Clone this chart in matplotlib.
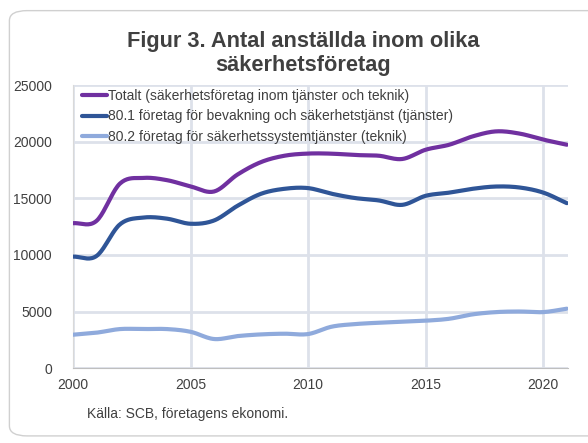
import numpy as np
import matplotlib.pyplot as plt
from matplotlib.patches import FancyBboxPatch

plt.rcParams['font.family'] = ['Liberation Sans', 'DejaVu Sans']

years = list(range(2000, 2022))
totalt = [12800, 13000, 16300, 16800, 16600, 16050, 15600, 17100, 18200, 18760,
          18950, 18940, 18820, 18760, 18470, 19290, 19730, 20470, 20910, 20710,
          20180, 19730]
bevakning = [9850, 9900, 12700, 13300, 13200, 12750, 13040, 14340, 15400, 15840,
             15900, 15400, 15020, 14810, 14420, 15220, 15500, 15840, 16040, 15950,
             15500, 14570]
teknik = [2950, 3130, 3450, 3450, 3450, 3210, 2570, 2830, 2980, 3040,
          3010, 3660, 3890, 4010, 4100, 4190, 4360, 4750, 4950, 5000,
          4950, 5250]

labels = ['Totalt (säkerhetsföretag inom tjänster och teknik)',
          '80.1 företag för bevakning och säkerhetstjänst (tjänster)',
          '80.2 företag för säkerhetssystemtjänster (teknik)']
colors = ['#7030a0', '#2f5597', '#8faadc']


def smooth(x, y, n=20):
    # catmull-rom curve through the points, like excel's smoothed line
    x = np.asarray(x, float)
    y = np.asarray(y, float)
    px = np.concatenate([[2 * x[0] - x[1]], x, [2 * x[-1] - x[-2]]])
    py = np.concatenate([[2 * y[0] - y[1]], y, [2 * y[-1] - y[-2]]])
    xs, ys = [], []
    t = np.linspace(0, 1, n, endpoint=False)
    for i in range(1, len(px) - 2):
        for p, out in ((px, xs), (py, ys)):
            p0, p1, p2, p3 = p[i - 1], p[i], p[i + 1], p[i + 2]
            out.extend(0.5 * (2 * p1 + (-p0 + p2) * t
                              + (2 * p0 - 5 * p1 + 4 * p2 - p3) * t ** 2
                              + (-p0 + 3 * p1 - 3 * p2 + p3) * t ** 3))
    xs.append(x[-1])
    ys.append(y[-1])
    return xs, ys


fig = plt.figure(figsize=(5.88, 4.43), dpi=100)
frame = FancyBboxPatch((0.016, 0.016), 1.2, 0.96, boxstyle='round,pad=0,rounding_size=0.03',
                       transform=fig.transFigure, facecolor='none', edgecolor='#d0d0d0',
                       linewidth=1.0, mutation_aspect=443 / 588, zorder=-1)
fig.patches.append(frame)

ax = fig.add_axes([0.124, 0.169, 0.842, 0.639])
ax.patch.set_alpha(0)
for vals, lab, col in zip([totalt, bevakning, teknik], labels, colors):
    sx, sy = smooth(years, vals)
    ax.plot(sx, sy, color=col, linewidth=3, label=lab, solid_capstyle='round', zorder=3)

ax.set_xlim(2000, 2021.05)
ax.set_ylim(0, 25000)
ax.set_xticks([2000, 2005, 2010, 2015, 2020])
ax.set_yticks(range(0, 25001, 5000))
ax.grid(True, color='#dde1ea', linewidth=2, zorder=0)
ax.set_axisbelow(True)
for s in ['top', 'right']:
    ax.spines[s].set_visible(False)
ax.spines['left'].set_color('#d9d9d9')
ax.spines['bottom'].set_color('#bfbfbf')
ax.tick_params(length=0, labelsize=10, labelcolor='#404040')
ax.tick_params(axis='y', pad=15)
ax.tick_params(axis='x', pad=7)

leg = ax.legend(loc='upper left', frameon=False, fontsize=10, handlelength=1.8,
                handletextpad=0.05, labelspacing=0.45, borderaxespad=0.1,
                bbox_to_anchor=(0.005, 1.01))
for t in leg.get_texts():
    t.set_color('#404040')

fig.text(0.515, 0.88, 'Figur 3. Antal anställda inom olika\nsäkerhetsföretag', ha='center',
         va='center', fontsize=15.7, fontweight='bold', color='#404040', linespacing=1.2)
fig.text(0.148, 0.065, 'Källa: SCB, företagens ekonomi.', fontsize=10, color='#404040',
         va='center')

fig.savefig('out.png', dpi=100)
